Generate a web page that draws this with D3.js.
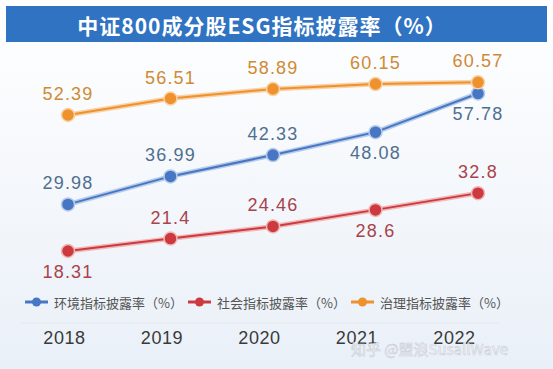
<!DOCTYPE html>
<html>
<head>
<meta charset="utf-8">
<script src="https://cdn.jsdelivr.net/npm/d3@7"></script>
<style>
  html, body { margin: 0; padding: 0; background: #fff; }
</style>
</head>
<body>
<script>
const years = ["2018", "2019", "2020", "2021", "2022"];
const envValues = [29.98, 36.99, 42.33, 48.08, 57.78];
const socValues = [18.31, 21.4, 24.46, 28.6, 32.8];
const govValues = [52.39, 56.51, 58.89, 60.15, 60.57];
// label above (-1) or below (+1) the point
const envSide = [-1, -1, -1, 1, 1];
const socSide = [1, -1, -1, 1, -1];
const govSide = [-1, -1, -1, -1, -1];
const seriesNames = ["环境指标披露率（%）", "社会指标披露率（%）", "治理指标披露率（%）"];

const width = 553, height = 369;
const font = "'Noto Sans CJK SC', 'Liberation Sans', sans-serif";

const svg = d3.select("body").append("svg")
  .attr("width", width)
  .attr("height", height)
  .style("font-family", font);

const defs = svg.append("defs");
const bg = defs.append("linearGradient").attr("id", "bg")
  .attr("x1", 0).attr("y1", 0).attr("x2", 0).attr("y2", 1);
bg.append("stop").attr("offset", "0%").attr("stop-color", "#ffffff");
bg.append("stop").attr("offset", "100%").attr("stop-color", "#eaf0f8");

svg.append("rect").attr("width", width).attr("height", height).attr("fill", "url(#bg)");

// title bar
svg.append("rect")
  .attr("x", 6).attr("y", 6).attr("width", 541).attr("height", 36)
  .attr("fill", "#2f73c2");
svg.append("text")
  .attr("x", 262).attr("y", 25)
  .attr("text-anchor", "middle").attr("dominant-baseline", "central")
  .attr("fill", "#fff").attr("font-size", 21).attr("font-weight", "bold")
  .attr("letter-spacing", 1)
  .text("中证800成分股ESG指标披露率（%）");

const x = d3.scalePoint().domain(years).range([68, 478]);
const xTick = d3.scalePoint().domain(years).range([64, 454]);
const y = d3.scaleLinear().domain([0, 60]).range([324, 84.6]);

const series = [
  { values: envValues, side: envSide, line: "#4676c4", glow: "#b7cbea", text: "#4f6f8f" },
  { values: socValues, side: socSide, line: "#cc3a40", glow: "#f0b9b9", text: "#a8434b" },
  { values: govValues, side: govSide, line: "#ef912c", glow: "#f7d3a9", text: "#cf8a34" }
];

const line = d3.line().x((d, i) => x(years[i])).y(d => y(d));

series.forEach(s => {
  const g = svg.append("g");
  g.append("path").datum(s.values).attr("d", line)
    .attr("fill", "none").attr("stroke", s.glow).attr("stroke-width", 5);
  g.append("path").datum(s.values).attr("d", line)
    .attr("fill", "none").attr("stroke", s.line).attr("stroke-width", 2);
  g.selectAll("circle").data(s.values).join("circle")
    .attr("cx", (d, i) => x(years[i])).attr("cy", d => y(d))
    .attr("r", 6.5).attr("fill", s.line)
    .attr("stroke", s.glow).attr("stroke-width", 1.5);
  g.selectAll("text").data(s.values).join("text")
    .attr("x", (d, i) => x(years[i]))
    .attr("y", (d, i) => y(d) + s.side[i] * 21)
    .attr("text-anchor", "middle").attr("dominant-baseline", "central")
    .attr("font-family", "'Liberation Sans', Arial, sans-serif")
    .attr("font-size", 18).attr("letter-spacing", 1.2).attr("fill", s.text)
    .text(d => d);
});

// legend
const legendX = [25, 188, 351];
const legend = svg.append("g").selectAll("g").data(series).join("g")
  .attr("transform", (d, i) => `translate(${legendX[i]},302)`);
legend.append("line").attr("x1", 0).attr("x2", 23)
  .attr("stroke", d => d.line).attr("stroke-width", 3);
legend.append("circle").attr("cx", 11.5).attr("r", 4.5).attr("fill", d => d.line);
legend.append("text").attr("x", 29).attr("dominant-baseline", "central")
  .attr("font-size", 13).attr("fill", "#555")
  .text((d, i) => seriesNames[i]);

// divider
svg.append("line").attr("x1", 20).attr("x2", 500).attr("y1", 323).attr("y2", 323)
  .attr("stroke", "#e2e7ee").attr("stroke-width", 1);

// x tick labels
const axis = d3.axisBottom(xTick).tickSize(0).tickPadding(0);
const ag = svg.append("g").attr("transform", "translate(0,331)").call(axis);
ag.select(".domain").remove();
ag.selectAll("text")
  .attr("font-family", "'Liberation Sans', Arial, sans-serif")
  .attr("font-size", 18).attr("letter-spacing", 0.6).attr("fill", "#3a3a3a");

// watermark
svg.append("text").attr("x", 508).attr("y", 348)
  .attr("text-anchor", "end").attr("dominant-baseline", "central")
  .attr("font-size", 15).attr("fill", "#ffffff").attr("fill-opacity", 0.8)
  .attr("stroke", "#c9ced6").attr("stroke-width", 0.6)
  .text("知乎 @盟浪SusallWave");
</script>
</body>
</html>
